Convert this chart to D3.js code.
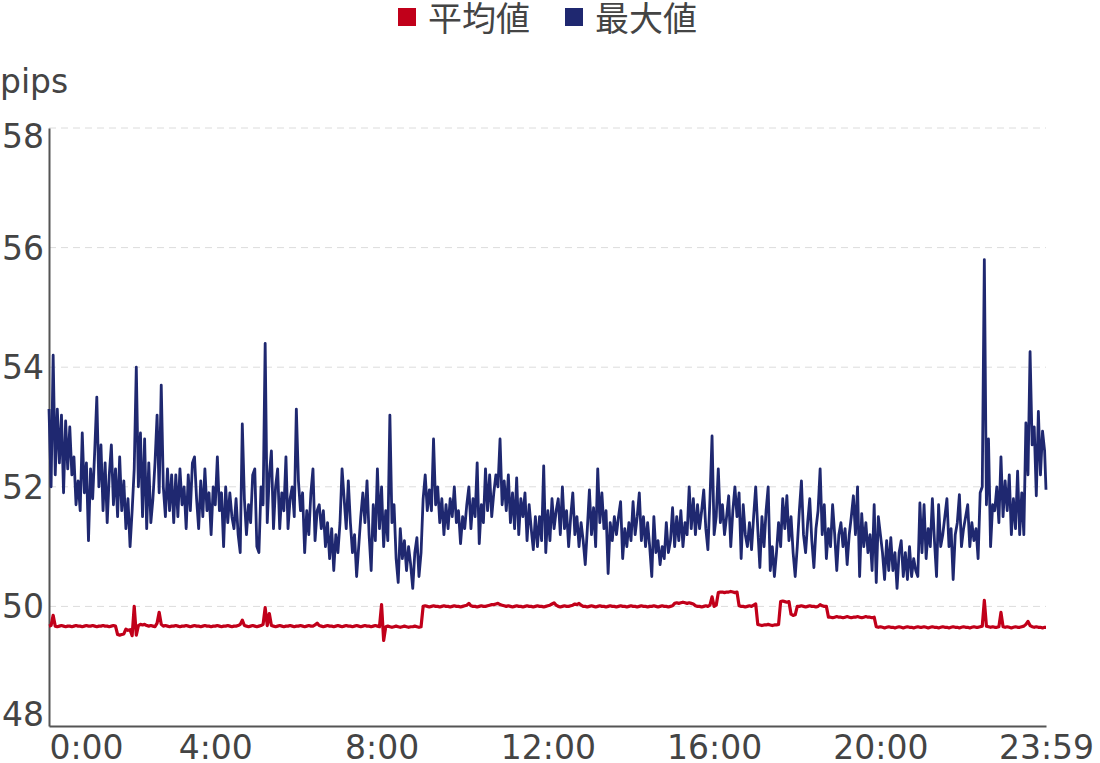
<!DOCTYPE html>
<html><head><meta charset="utf-8">
<script src="https://cdn.jsdelivr.net/npm/d3@7"></script>
<style>body{margin:0;background:#fff}svg{display:block}</style>
</head><body>
<svg id="chart" width="1100" height="763"></svg>
<script>
const seriesNames = ["平均値", "最大値"];
const seriesColors = ["#c1001a", "#1f2870"];
const yTicks = [48, 50, 52, 54, 56, 58];
const xTickMinutes = [0, 240, 480, 720, 960, 1200, 1439];
const xTickLabels = ["0:00", "4:00", "8:00", "12:00", "16:00", "20:00", "23:59"];
const yUnit = "pips";
const sampleMinutes = d3.range(0, 1440, 3).concat([1439]);

const maxValues = [
53.3,52.0,54.2,52.2,53.3,52.4,53.2,51.9,53.1,52.3,
53.0,52.2,52.5,51.7,52.1,51.6,52.9,51.9,52.4,51.1,
52.3,51.8,52.6,53.5,52.0,52.7,51.6,52.4,51.4,52.2,
52.7,51.7,52.3,51.5,52.5,51.6,52.1,51.3,51.8,51.0,
51.6,52.3,54.0,52.0,52.9,51.5,52.8,51.3,52.4,51.4,
51.8,52.4,53.2,51.9,53.7,52.0,51.5,52.3,51.6,52.2,
51.4,52.2,51.5,52.3,51.7,52.0,51.3,52.2,51.6,52.4,
52.5,51.8,51.3,52.1,51.5,52.3,51.6,51.9,51.2,52.0,
51.7,52.5,51.6,51.9,51.0,52.0,51.4,51.9,51.5,51.3,
51.8,51.2,50.9,53.05,51.8,51.2,51.7,51.4,52.2,52.3,
51.0,50.9,52.0,51.7,54.4,51.4,52.2,52.6,51.3,52.0,
52.3,51.3,51.9,51.6,52.5,51.3,51.8,52.0,51.5,53.3,
52.1,51.6,51.9,50.9,51.6,51.2,51.9,52.3,51.1,51.6,
51.7,51.3,51.6,51.0,51.4,50.8,51.3,50.6,51.2,50.9,
51.4,52.3,51.8,51.3,52.1,51.4,50.9,51.2,50.5,51.0,
51.5,51.9,51.4,52.1,51.2,50.6,51.7,51.1,52.3,51.3,
52.0,51.0,51.6,51.1,53.2,51.4,51.7,50.8,50.4,51.3,
50.8,51.1,50.6,51.0,50.7,50.3,50.9,51.15,50.5,50.9,
51.8,52.2,51.6,51.95,51.6,52.8,51.7,52.0,51.4,51.8,
51.2,51.7,51.3,51.8,51.5,52.0,51.4,51.6,51.05,51.5,
51.3,51.7,52.0,51.3,51.8,51.5,52.4,51.05,51.7,51.4,
52.3,51.6,52.2,51.5,51.9,52.2,52.0,52.8,51.7,52.1,
51.6,52.2,51.4,51.9,51.3,52.15,51.2,51.8,51.5,51.9,
51.1,51.7,51.3,50.95,51.5,51.0,51.5,51.1,52.35,50.9,
51.6,51.1,51.8,51.3,51.6,51.8,51.2,52.0,51.3,51.6,
51.0,51.5,51.9,51.2,51.5,51.0,51.4,51.1,50.7,51.3,
51.95,51.2,51.65,51.0,52.3,51.4,51.9,51.3,51.6,50.55,
51.4,51.1,51.5,51.2,51.5,51.75,50.8,51.3,51.0,51.4,
51.1,51.75,51.2,51.5,51.9,51.1,51.5,51.0,51.4,51.0,
50.5,51.5,50.9,51.1,50.7,51.0,50.8,51.4,50.9,51.1,
51.65,51.0,51.5,51.1,51.6,51.0,51.4,51.2,52.0,51.3,
51.8,51.2,51.7,51.3,51.6,51.95,51.3,50.95,51.8,52.85,
51.2,51.5,52.3,51.4,51.7,51.2,51.5,51.85,51.0,51.6,
52.0,51.5,51.9,50.8,51.7,51.2,51.0,51.4,50.95,51.5,
52.0,51.3,50.65,51.5,51.0,51.6,52.0,50.6,51.0,50.5,
50.9,51.4,51.0,51.8,51.3,51.85,51.1,51.5,50.9,50.5,
51.0,51.6,52.1,51.2,50.9,51.4,51.8,51.1,50.65,51.3,
51.6,52.3,51.2,51.7,50.8,51.3,51.0,51.7,51.2,50.6,
51.2,51.4,51.0,51.3,50.7,51.2,51.5,51.85,51.2,52.0,
50.5,51.55,51.0,51.4,50.9,51.2,50.6,51.7,50.4,51.5,
51.2,50.9,50.45,51.1,50.6,51.15,50.6,50.9,50.3,50.9,
51.1,50.5,50.9,50.45,51.0,50.5,50.8,50.6,50.5,51.73,
50.9,51.7,50.8,51.3,51.0,51.8,51.1,50.5,51.7,51.0,
51.2,51.5,51.8,51.0,51.3,50.45,51.2,51.4,51.87,51.0,
51.3,51.5,51.7,51.0,51.4,51.1,51.3,50.8,51.9,52.0,
55.8,51.7,52.8,51.0,51.7,51.6,52.0,51.4,52.5,51.5,
52.1,51.6,52.2,51.2,51.8,51.3,52.26,51.2,51.9,51.2,
53.07,52.2,54.26,52.7,53.0,51.85,53.26,52.2,52.93,52.6,
51.95
];

const avgValues = [
49.67,49.68,49.85,49.67,49.66,49.67,49.68,49.67,49.66,49.67,
49.67,49.66,49.67,49.68,49.67,49.67,49.66,49.67,49.68,49.67,
49.67,49.68,49.67,49.66,49.67,49.67,49.68,49.67,49.67,49.66,
49.67,49.68,49.67,49.53,49.52,49.53,49.54,49.62,49.6,49.61,
49.51,50.0,49.52,49.68,49.7,49.69,49.7,49.68,49.67,49.68,
49.67,49.66,49.72,49.9,49.7,49.67,49.68,49.67,49.66,49.67,
49.67,49.68,49.67,49.66,49.67,49.67,49.68,49.67,49.66,49.67,
49.68,49.67,49.67,49.66,49.67,49.68,49.67,49.67,49.66,49.67,
49.67,49.68,49.67,49.66,49.67,49.67,49.68,49.67,49.66,49.67,
49.67,49.68,49.7,49.77,49.68,49.67,49.66,49.67,49.68,49.67,
49.66,49.67,49.68,49.7,49.98,49.68,49.88,49.68,49.67,49.66,
49.67,49.68,49.67,49.66,49.67,49.67,49.68,49.67,49.66,49.67,
49.67,49.68,49.67,49.66,49.67,49.68,49.67,49.67,49.69,49.72,
49.68,49.67,49.66,49.67,49.68,49.67,49.67,49.66,49.67,49.68,
49.67,49.66,49.67,49.68,49.67,49.67,49.66,49.67,49.68,49.67,
49.66,49.67,49.68,49.67,49.67,49.66,49.67,49.68,49.67,49.66,
50.03,49.43,49.66,49.67,49.66,49.65,49.66,49.67,49.66,49.65,
49.66,49.67,49.66,49.65,49.66,49.66,49.67,49.66,49.65,49.66,
50.0,50.01,50.0,49.99,50.0,50.01,50.0,50.0,49.99,50.0,
50.01,50.0,50.0,49.99,50.0,50.01,50.0,50.0,49.99,50.0,
50.01,50.02,50.05,50.01,50.0,50.0,49.99,50.0,50.01,50.0,
50.0,50.01,50.02,50.03,50.03,50.04,50.05,50.03,50.02,50.01,
50.0,50.01,50.0,49.99,50.0,50.01,50.0,50.0,49.99,50.0,
50.01,50.0,50.0,49.99,50.0,50.01,50.0,50.0,49.99,50.0,
50.01,50.02,50.04,50.06,50.02,50.0,49.99,50.0,50.01,50.0,
50.0,50.01,50.02,50.04,50.03,50.05,50.02,50.0,50.0,49.99,
50.0,50.01,50.0,49.99,50.0,50.01,50.0,50.0,49.99,50.0,
50.01,50.0,50.0,49.99,50.0,50.01,50.0,50.0,49.99,50.0,
50.01,50.0,50.0,49.99,50.0,50.01,50.0,50.0,49.99,50.0,
50.0,50.01,50.0,49.99,50.0,50.01,50.0,50.0,49.99,50.0,
50.01,50.05,50.06,50.05,50.06,50.07,50.06,50.05,50.06,50.05,
50.04,50.01,50.0,50.0,49.99,50.0,50.01,50.0,50.02,50.16,
50.0,50.02,50.23,50.24,50.24,50.23,50.24,50.24,50.25,50.24,
50.23,50.24,50.01,50.0,50.0,49.99,50.0,50.01,50.0,50.02,
50.04,49.7,49.69,49.68,49.69,49.69,49.7,49.69,49.68,49.69,
49.69,49.7,50.08,50.09,50.08,50.07,50.08,49.87,49.85,49.86,
50.0,50.0,50.01,50.0,49.99,50.0,50.01,50.0,50.0,49.99,
50.0,50.03,50.01,50.0,50.0,49.82,49.82,49.81,49.82,49.83,
49.82,49.82,49.81,49.82,49.83,49.82,49.81,49.82,49.82,49.83,
49.82,49.81,49.82,49.83,49.82,49.82,49.81,49.82,49.66,49.65,
49.66,49.65,49.64,49.65,49.66,49.65,49.65,49.64,49.65,49.66,
49.65,49.64,49.65,49.66,49.65,49.65,49.64,49.65,49.66,49.65,
49.65,49.66,49.65,49.64,49.65,49.66,49.65,49.65,49.64,49.65,
49.66,49.65,49.65,49.64,49.65,49.66,49.65,49.65,49.64,49.65,
49.66,49.65,49.65,49.64,49.65,49.66,49.65,49.65,49.66,49.67,
50.1,49.67,49.66,49.65,49.66,49.65,49.65,49.66,49.9,49.66,
49.65,49.66,49.65,49.64,49.65,49.66,49.65,49.65,49.66,49.67,
49.7,49.75,49.68,49.66,49.65,49.66,49.65,49.65,49.64,49.65,
49.65
];

const svg = d3.select("#chart");
const plot = {left: 49, right: 1046, top: 128, bottom: 726};
const x = d3.scaleLinear().domain([0, 1439]).range([plot.left, plot.right]);
const y = d3.scaleLinear().domain([48, 58]).range([plot.bottom, plot.top]);
const textColor = "#444";
const latin = "'DejaVu Sans', Verdana, sans-serif";
const cjk = "'Noto Sans CJK JP', 'Noto Sans', sans-serif";

// grid
svg.append("g").selectAll("line").data(yTicks.filter(v => v > 48)).join("line")
  .attr("x1", plot.left).attr("x2", plot.right)
  .attr("y1", d => y(d)).attr("y2", d => y(d))
  .attr("stroke", "#dcdcdc").attr("stroke-width", 1).attr("stroke-dasharray", "7,5");

// axes
const yAxis = d3.axisLeft(y).tickValues(yTicks).tickSize(0).tickPadding(5);
const gy = svg.append("g").attr("transform", `translate(${plot.left},0)`).call(yAxis);
gy.select(".domain").attr("stroke", "#555").attr("stroke-width", 2);
gy.selectAll("text").attr("font-family", latin).attr("font-size", 33).attr("fill", textColor)
  .attr("dy", d => d === 58 ? "0.6em" : (d === 48 ? "-0.02em" : "0.35em"));

const xAxis = d3.axisBottom(x).tickValues(xTickMinutes).tickSize(0).tickPadding(0)
  .tickFormat((d, i) => xTickLabels[i]);
const gx = svg.append("g").attr("transform", `translate(0,${plot.bottom})`).call(xAxis);
gx.select(".domain").attr("stroke", "#555").attr("stroke-width", 2);
gx.selectAll("text").attr("font-family", latin).attr("font-size", 33).attr("fill", textColor)
  .attr("dy", null).attr("y", 33)
  .attr("text-anchor", (d, i) => i === 0 ? "start" : "middle");

// lines
const avgData = sampleMinutes.map((m, i) => ({m, v: avgValues[i]}));
const maxData = sampleMinutes.map((m, i) => ({m, v: maxValues[i]}));
const line = d3.line().x(d => x(d.m)).y(d => y(d.v));
svg.append("path").datum(maxData).attr("d", line).attr("fill", "none")
  .attr("stroke", seriesColors[1]).attr("stroke-width", 2.8).attr("stroke-linejoin", "round");
svg.append("path").datum(avgData).attr("d", line).attr("fill", "none")
  .attr("stroke", seriesColors[0]).attr("stroke-width", 3.2).attr("stroke-linejoin", "round");

// unit label
svg.append("text").attr("x", 0).attr("y", 93).text(yUnit)
  .attr("font-family", latin).attr("font-size", 33).attr("fill", textColor);

// legend
const legendX = [398, 565];
const lg = svg.append("g");
seriesNames.forEach((name, i) => {
  lg.append("rect").attr("x", legendX[i]).attr("y", 8).attr("width", 18).attr("height", 18)
    .attr("fill", seriesColors[i]);
  lg.append("text").attr("x", legendX[i] + 30).attr("y", 31).text(name)
    .attr("font-family", cjk).attr("font-size", 34).attr("fill", textColor);
});
</script>
</body></html>
